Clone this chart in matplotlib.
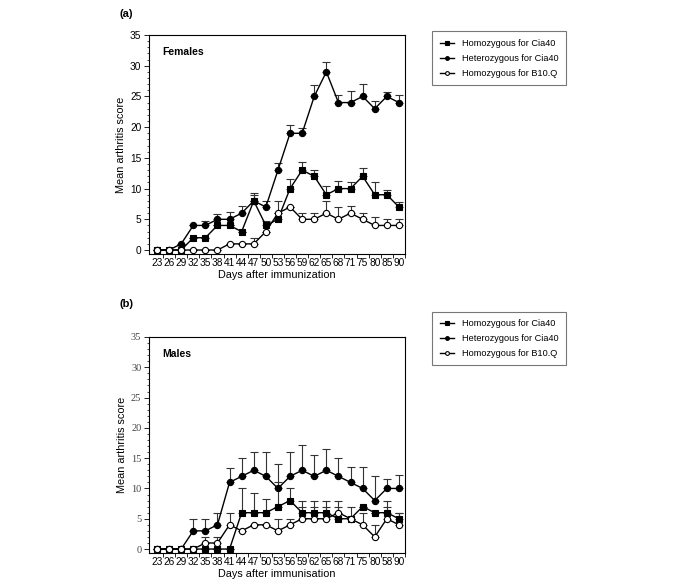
import numpy as np
import matplotlib
matplotlib.use("Agg")
import matplotlib.pyplot as plt
from matplotlib.ticker import MultipleLocator, FixedLocator

plt.rcParams["font.family"] = ["Liberation Sans", "DejaVu Sans"]

# Females (a)
days_f = ["23", "26", "29", "32", "35", "38", "41", "44", "47", "50", "53",
          "56", "59", "62", "65", "68", "71", "75", "80", "85", "90"]
f_homo_cia = [0, 0, 0, 2, 2, 4, 4, 3, 8, 4, 5, 10, 13, 12, 9, 10, 10, 12, 9, 9, 7]
f_homo_cia_up = [0, 0, 0, 2, 2, 4, 4, 3, 9.0, 4.8, 8, 11.5, 14.3, 13, 10.5, 11.2, 11.1, 13.3, 11, 9.8, 7.8]
f_het_cia = [0, 0, 1, 4, 4, 5, 5, 6, 8, 7, 13, 19, 19, 25, 29, 24, 24, 25, 23, 25, 24]
f_het_cia_up = [0, 0, 1, 4, 4.8, 5.9, 6.2, 7.1, 9.2, 8, 14.2, 20.3, 19.8, 26.8, 30.6, 25.3, 25.9, 27, 24.3, 25.8, 25.3]
f_b10q = [0, 0, 0, 0, 0, 0, 1, 1, 1, 3, 6, 7, 5, 5, 6, 5, 6, 5, 4, 4, 4]
f_b10q_up = [0, 0, 0, 0, 0, 0, 1, 1, 2, 3, 6, 7, 6, 6, 8, 7, 7.2, 6, 5.3, 5, 5]

# Males (b)
days_m = ["23", "26", "29", "32", "35", "38", "41", "44", "47", "50", "53",
          "56", "59", "62", "65", "68", "71", "75", "80", "58", "90"]
m_homo_cia = [0, 0, 0, 0, 0, 0, 0, 6, 6, 6, 7, 8, 6, 6, 6, 5, 5, 7, 6, 6, 5]
m_homo_cia_up = [0, 0, 0, 0, 0, 0, 0, 10, 9.2, 8.3, 11, 10, 8, 8, 8, 8, 7, 7, 6, 8, 6]
m_het_cia = [0, 0, 0, 3, 3, 4, 11, 12, 13, 12, 10, 12, 13, 12, 13, 12, 11, 10, 8, 10, 10]
m_het_cia_up = [0, 0, 0, 5, 5, 6, 13.4, 15, 16, 16, 14, 16, 17.2, 15.6, 16.5, 15, 13.6, 13.6, 12, 11.5, 12.3]
m_b10q = [0, 0, 0, 0, 1, 1, 4, 3, 4, 4, 3, 4, 5, 5, 5, 6, 5, 4, 2, 5, 4]
m_b10q_up = [0, 0, 0, 0, 2, 2, 6, 3, 4, 4, 5, 5, 7, 7, 7, 7, 5, 6, 4, 7, 6]

legend_labels = ["Homozygous for Cia40", "Heterozygous for Cia40", "Homozygous for B10.Q"]
y_ticks = [0, 5, 10, 15, 20, 25, 30, 35]


def draw_panel(ax, days, series, title, xlabel, serif_y=False):
    x = np.arange(len(days))
    styles = [("s", "black"), ("o", "black"), ("o", "white")]
    handles = []
    for (vals, ups), (mk, fc) in zip(series, styles):
        vals = np.array(vals, dtype=float)
        ups = np.array(ups, dtype=float)
        err = np.clip(ups - vals, 0, None)
        ax.errorbar(x, vals, yerr=[np.zeros_like(err), err], fmt="none",
                    ecolor="#333333", elinewidth=0.8, capsize=3, capthick=0.8, zorder=2)
        h, = ax.plot(x, vals, color="black", lw=1.0, marker=mk, ms=4.5,
                     mfc=fc, mec="black", mew=0.8, zorder=3)
        handles.append(h)
    ax.set_xlim(-0.66, len(days) - 0.5)
    ax.set_ylim(-0.65, 35)
    ax.set_xticks(x)
    ax.set_xticklabels(days, fontsize=7.3)
    ax.tick_params(axis="x", which="major", length=0, pad=3)
    ax.xaxis.set_minor_locator(FixedLocator(np.arange(len(days)) + 0.5))
    ax.tick_params(axis="x", which="minor", length=3, width=0.6)
    ax.set_yticks(y_ticks)
    if serif_y:
        ax.set_yticklabels([str(t) for t in y_ticks], fontfamily="Liberation Serif",
                           color="#444444", fontsize=7.5)
    else:
        ax.set_yticklabels([str(t) for t in y_ticks], fontsize=7.3)
    ax.yaxis.set_minor_locator(MultipleLocator(1))
    ax.tick_params(axis="y", which="major", length=3.5, width=0.6, pad=2)
    ax.tick_params(axis="y", which="minor", length=1.5, width=0.5)
    for sp in ax.spines.values():
        sp.set_linewidth(0.8)
    ax.set_ylabel("Mean arthritis score", fontsize=7.8, labelpad=3)
    ax.set_xlabel(xlabel, fontsize=7.8, labelpad=1)
    ax.text(0.05, 0.945, title, transform=ax.transAxes, fontsize=7.5,
            fontweight="bold", va="top", ha="left")
    return handles


fig = plt.figure(figsize=(6.85, 5.83), dpi=100)
ax_a = fig.add_axes([0.2175, 0.5643, 0.3737, 0.3757])
ax_b = fig.add_axes([0.2175, 0.0515, 0.3737, 0.3705])

ha = draw_panel(ax_a, days_f,
                [(f_homo_cia, f_homo_cia_up), (f_het_cia, f_het_cia_up), (f_b10q, f_b10q_up)],
                "Females", "Days after immunization")
hb = draw_panel(ax_b, days_m,
                [(m_homo_cia, m_homo_cia_up), (m_het_cia, m_het_cia_up), (m_b10q, m_b10q_up)],
                "Males", "Days after immunisation", serif_y=True)

for handles, top in [(ha, 0.946), (hb, 0.465)]:
    leg = fig.legend(handles, legend_labels, loc="upper left",
                     bbox_to_anchor=(0.631, top), fontsize=6.6, frameon=True,
                     fancybox=False, edgecolor="#555555", handlelength=1.6,
                     handletextpad=0.9, borderpad=0.8, labelspacing=0.65,
                     markerscale=0.6, borderaxespad=0)
    leg.get_frame().set_linewidth(0.8)

fig.text(0.175, 0.985, "(a)", fontsize=8, fontweight="bold", va="top")
fig.text(0.175, 0.487, "(b)", fontsize=8, fontweight="bold", va="top")

fig.savefig("out.png", dpi=100)
